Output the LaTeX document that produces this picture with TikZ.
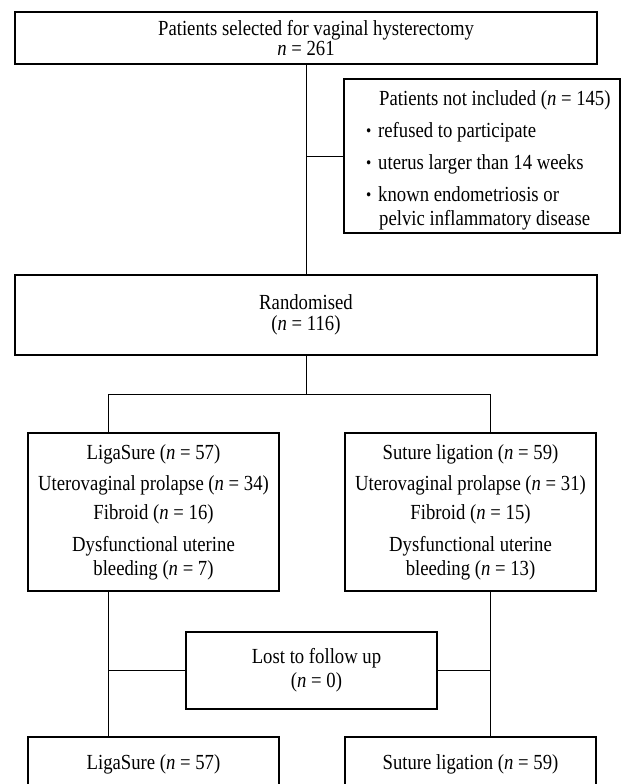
\documentclass[tikz,border=0pt]{standalone}
\usepackage{fontspec}
\setmainfont[FakeStretch=0.87]{Liberation Serif}
\newcommand\fsz{\fontsize{21.5}{24}\selectfont}
\newcommand\smallbul{\makebox[12pt][l]{\raisebox{1pt}{\scalebox{0.8}{\textbullet}}}}
\tikzset{
  box/.style={draw, line width=1.8pt, inner sep=0pt, align=center, font=\fsz},
  link/.style={line width=1pt},
}
\begin{document}
\begin{tikzpicture}[x=1pt,y=-1pt]
\useasboundingbox (0,0) rectangle (624,784);
\clip (0,0) rectangle (624,784);
% boxes
\node[box, minimum width=582, minimum height=52] (top) at (306,38)
  {\hspace*{20pt}Patients selected for vaginal hysterectomy\\[-4pt]\textit{n} = 261};
\node[box, minimum width=276, minimum height=154] (ex) at (482,156) {};
\node[anchor=west, align=left, inner sep=0pt, font=\fsz] (extext) at (366,160)
  {\hspace*{13pt}Patients not included (\textit{n} = 145)\\[8pt]
   \smallbul refused to participate\\[8pt]
   \smallbul uterus larger than 14 weeks\\[8pt]
   \smallbul known endometriosis or\\
   \hspace*{13pt}pelvic inflammatory disease};
\node[box, minimum width=582, minimum height=80] (rand) at (306,315)
  {Randomised\\[-3pt](\textit{n} = 116)};
\node[box, minimum width=251, minimum height=158] (lig) at (153.5,512)
  {LigaSure (\textit{n} = 57)\\[7pt]
   Uterovaginal prolapse (\textit{n} = 34)\\[5pt]
   Fibroid (\textit{n} = 16)\\[8pt]
   Dysfunctional uterine\\
   bleeding (\textit{n} = 7)};
\node[box, minimum width=251, minimum height=158] (sut) at (470.5,512)
  {Suture ligation (\textit{n} = 59)\\[7pt]
   Uterovaginal prolapse (\textit{n} = 31)\\[5pt]
   Fibroid (\textit{n} = 15)\\[8pt]
   Dysfunctional uterine\\
   bleeding (\textit{n} = 13)};
\node[box, minimum width=251, minimum height=77] (lost) at (311.5,670.5)
  {\hspace*{10pt}Lost to follow up\\\hspace*{10pt}(\textit{n} = 0)};
\node[box, anchor=north, minimum width=251, text height=25pt, text depth=70pt, inner ysep=8pt] (lig2) at (153.5,736)
  {LigaSure (\textit{n} = 57)};
\node[box, anchor=north, minimum width=251, text height=25pt, text depth=70pt, inner ysep=8pt] (sut2) at (470.5,736)
  {Suture ligation (\textit{n} = 59)};
% connectors
\coordinate (dl) at (108,394);
\coordinate (dr) at (490,394);
\draw[link] (top.south) -- (rand.north);
\draw[link] (top.south |- ex.west) -- (ex.west);
\draw[link] (rand.south) -- (rand.south |- dl);
\draw[link] (dl) -- (dr);
\draw[link] (dl) -- (dl |- lig.north);
\draw[link] (dr) -- (dr |- sut.north);
\draw[link] (dl |- lig.south) -- (dl |- lig2.north);
\draw[link] (dr |- sut.south) -- (dr |- sut2.north);
\draw[link] (dl |- lost.west) -- (lost.west);
\draw[link] (lost.east) -- (dr |- lost.east);
\end{tikzpicture}
\end{document}
